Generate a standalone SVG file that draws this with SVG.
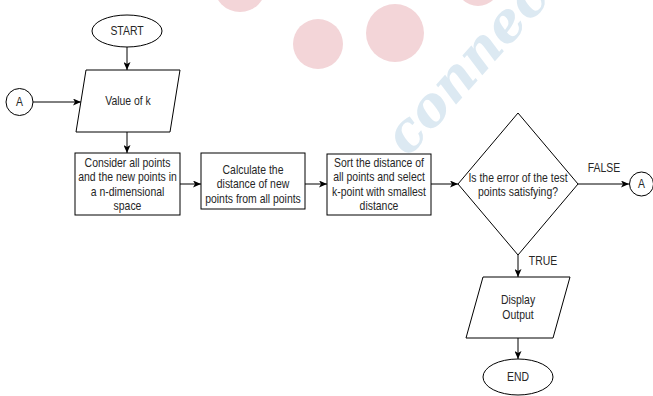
<svg xmlns="http://www.w3.org/2000/svg" width="653" height="396" viewBox="0 0 653 396">
<style>
.sh{fill:#fff;stroke:#000;stroke-width:1}
.ln{fill:none;stroke:#000;stroke-width:1}
.t{font-family:"Liberation Sans",Arial,sans-serif;font-size:12px;fill:#262626;text-anchor:middle}
.wm{fill:#f3d5d8}
</style>
<defs>
<marker id="ah" viewBox="0 0 8 7" refX="8" refY="3.5" markerWidth="8" markerHeight="7" markerUnits="userSpaceOnUse" orient="auto">
<path d="M0,0 L8,3.5 L0,7 L2,3.5 z" fill="#000"/>
</marker>
</defs>
<rect width="653" height="396" fill="#fff"/>
<g id="watermark">
<circle class="wm" cx="240" cy="-14" r="26"/>
<circle class="wm" cx="318" cy="44" r="25"/>
<circle class="wm" cx="395" cy="33" r="29"/>
<circle class="wm" cx="478" cy="-16" r="22"/>
<text x="0" y="0" transform="translate(408,158) rotate(-48)" font-family="'DejaVu Serif',serif" font-style="italic" font-weight="bold" font-size="54" fill="#dce9f2">connec</text>
</g>
<g id="connectors">
<line class="ln" x1="127" y1="47" x2="127" y2="70" marker-end="url(#ah)"/>
<line class="ln" x1="33" y1="102" x2="81" y2="102" marker-end="url(#ah)"/>
<line class="ln" x1="127" y1="132" x2="127" y2="153" marker-end="url(#ah)"/>
<line class="ln" x1="180" y1="184" x2="201" y2="184" marker-end="url(#ah)"/>
<line class="ln" x1="305" y1="184" x2="327" y2="184" marker-end="url(#ah)"/>
<line class="ln" x1="431" y1="184" x2="458" y2="184" marker-end="url(#ah)"/>
<line class="ln" x1="578" y1="184" x2="629" y2="184" marker-end="url(#ah)"/>
<line class="ln" x1="518" y1="255" x2="518" y2="277" marker-end="url(#ah)"/>
<line class="ln" x1="518" y1="338" x2="518" y2="359" marker-end="url(#ah)"/>
<text class="t" x="0" y="172" transform="translate(604,0) scale(0.87,1)">FALSE</text>
<text class="t" x="0" y="265" transform="translate(543,0) scale(0.87,1)">TRUE</text>
</g>
<g id="start">
<ellipse class="sh" cx="127" cy="31" rx="35" ry="16"/>
<text class="t" x="0" y="35" transform="translate(127,0) scale(0.87,1)">START</text>
</g>
<g id="connectorA-in">
<circle class="sh" cx="19.5" cy="102" r="13.5"/>
<text class="t" x="0" y="106" transform="translate(19.5,0) scale(0.87,1)">A</text>
</g>
<g id="value-k">
<polygon class="sh" points="86,70 180,70 170,132 76,132"/>
<text class="t" x="0" y="105" transform="translate(128,0) scale(0.87,1)">Value of k</text>
</g>
<g id="consider">
<rect class="sh" x="75" y="153" width="105" height="62"/>
<g transform="translate(127.5,0) scale(0.87,1)">
<text class="t" x="0" y="167">Consider all points</text>
<text class="t" x="0" y="181.5">and the new points in</text>
<text class="t" x="0" y="196">a n-dimensional</text>
<text class="t" x="0" y="210.5">space</text>
</g>
</g>
<g id="calculate">
<rect class="sh" x="201" y="153" width="104" height="56"/>
<g transform="translate(253,0) scale(0.87,1)">
<text class="t" x="0" y="174">Calculate the</text>
<text class="t" x="0" y="188.5">distance of new</text>
<text class="t" x="0" y="203">points from all points</text>
</g>
</g>
<g id="sort">
<rect class="sh" x="327" y="154" width="104" height="61"/>
<g transform="translate(379,0) scale(0.87,1)">
<text class="t" x="0" y="167">Sort the distance of</text>
<text class="t" x="0" y="181.5">all points and select</text>
<text class="t" x="0" y="196">k-point with smallest</text>
<text class="t" x="0" y="210.5">distance</text>
</g>
</g>
<g id="decision">
<polygon class="sh" points="518,113 578,184 518,255 458,184"/>
<g transform="translate(518,0) scale(0.87,1)">
<text class="t" x="0" y="182">Is the error of the test</text>
<text class="t" x="0" y="196.5">points satisfying?</text>
</g>
</g>
<g id="connectorA-out">
<circle class="sh" cx="641.5" cy="184" r="12"/>
<text class="t" x="0" y="188" transform="translate(641.5,0) scale(0.87,1)">A</text>
</g>
<g id="display">
<polygon class="sh" points="483,277 570,277 553,338 466,338"/>
<g transform="translate(518,0) scale(0.87,1)">
<text class="t" x="0" y="304.5">Display</text>
<text class="t" x="0" y="319">Output</text>
</g>
</g>
<g id="end">
<ellipse class="sh" cx="518" cy="377" rx="35" ry="18"/>
<text class="t" x="0" y="381" transform="translate(518,0) scale(0.87,1)">END</text>
</g>
</svg>
